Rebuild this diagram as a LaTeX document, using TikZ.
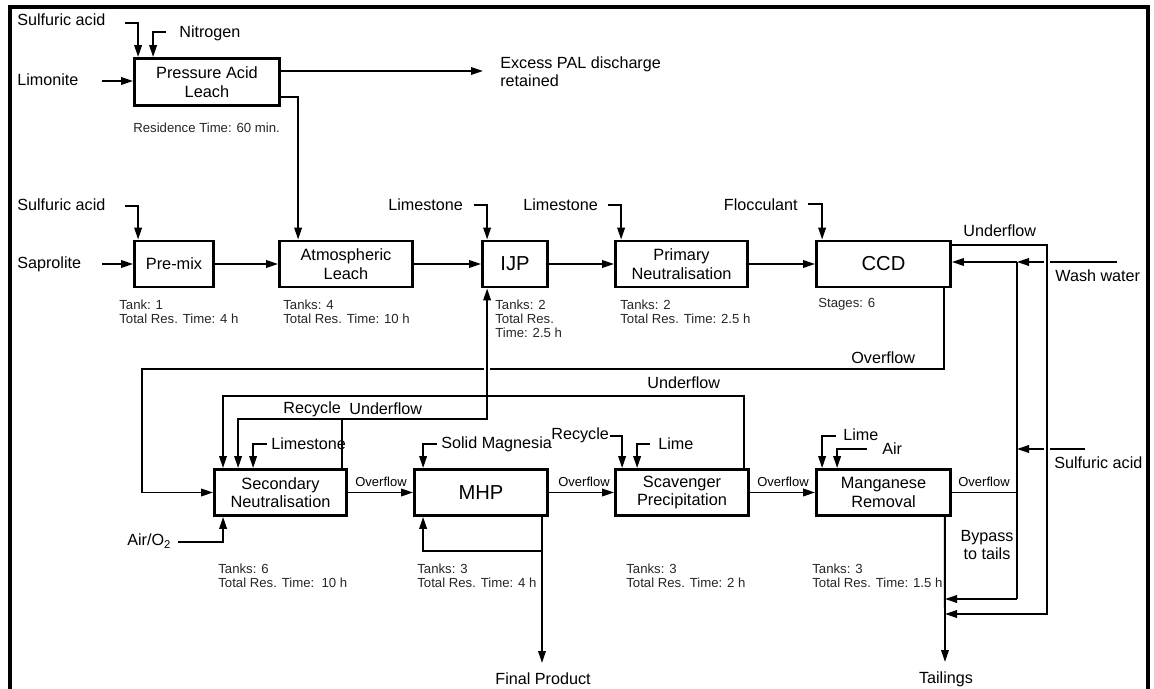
\documentclass[tikz,border=0pt]{standalone}
\usepackage{fontspec}
\setmainfont{Liberation Sans}
\usetikzlibrary{arrows.meta,calc}
\tikzset{
  unitbox/.style={draw, line width=1.6pt, minimum height=0.92cm, inner sep=2pt,
                  align=center, font=\fontsize{9.3}{10.5}\selectfont},
  bigbox/.style={unitbox, font=\fontsize{11.5}{13}\selectfont},
  lbl/.style={inner sep=0pt, anchor=west, align=left, font=\fontsize{9.2}{10.4}\selectfont},
  note/.style={inner sep=0pt, anchor=west, align=left, text=black!85,
               font=\fontsize{7.5}{8}\selectfont},
  tag/.style={inner sep=0pt, anchor=west, font=\fontsize{7.4}{8}\selectfont},
  flow/.style={line width=1.1pt},
  arr/.style={flow, -{Triangle[length=2.4mm,width=1.5mm]}}}
\begin{document}
\begin{tikzpicture}[x=0.02cm, y=-0.02cm]
  \useasboundingbox (0,0) rectangle (1154,689);
  \draw[line width=2.3pt] (10,689) -- (10,7) -- (1148,7) -- (1148,689);

  % unit operations
  \node[unitbox, minimum width=2.9cm, minimum height=0.94cm] (pal) at (207,82) {Pressure Acid\\Leach};
  \node[unitbox, minimum width=1.58cm] (premix) at (174,264) {Pre-mix};
  \node[unitbox, minimum width=2.66cm] (atm) at (346,264) {Atmospheric\\Leach};
  \node[bigbox, minimum width=1.3cm] (ijp) at (515,264) {IJP};
  \node[unitbox, minimum width=2.64cm] (pn) at (681.5,264) {Primary\\Neutralisation};
  \node[bigbox, minimum width=2.68cm] (ccd) at (883.5,264) {CCD};
  \node[unitbox, minimum width=2.64cm] (sn) at (280.5,492.5) {Secondary\\Neutralisation};
  \node[bigbox, minimum width=2.66cm] (mhp) at (481,492.5) {MHP};
  \node[unitbox, minimum width=2.66cm] (scav) at (682,492.5) {Scavenger\\Precipitation};
  \node[unitbox, minimum width=2.68cm] (mn) at (883.5,492.5) {Manganese\\Removal};

  % stream labels
  \node[lbl] (sa1) at (17,20) {Sulfuric acid};
  \node[lbl] (nit) at (179,33) {Nitrogen};
  \node[lbl] (lim) at (17,80) {Limonite};
  \node[lbl] (excess) at (500,72) {Excess PAL discharge\\retained};
  \node[lbl] (sa2) at (17,205) {Sulfuric acid};
  \node[lbl] (sap) at (17,264) {Saprolite};
  \node[lbl] (ls1) at (388,205) {Limestone};
  \node[lbl] (ls2) at (523,205) {Limestone};
  \node[lbl, anchor=east] (floc) at (798,205) {Flocculant};
  \node[lbl] (uf1) at (963,231) {Underflow};
  \node[lbl] (wash) at (1055,276) {Wash water};
  \node[lbl] (of1) at (851,358) {Overflow};
  \node[lbl] (uf2) at (647,383) {Underflow};
  \node[lbl] (rec1) at (283,409) {Recycle};
  \node[lbl] (uf3) at (349,409) {Underflow};
  \node[lbl] (ls3) at (271,444) {Limestone};
  \node[lbl] (mag) at (441,444) {Solid Magnesia};
  \node[lbl] (rec2) at (551,435) {Recycle};
  \node[lbl] (lime1) at (658,444) {Lime};
  \node[lbl] (lime2) at (843,435) {Lime};
  \node[lbl] (air) at (882,449) {Air};
  \node[lbl] (sa3) at (1054,463) {Sulfuric acid};
  \node[lbl] (airo) at (127,541) {Air/O\textsubscript{2}};
  \node[lbl, anchor=center, align=center] (bypass) at (987,545) {Bypass\\to tails};
  \node[lbl, anchor=center] (fp) at (543,679) {Final Product};
  \node[lbl, anchor=center] (tl) at (946,679) {Tailings};
  \node[tag] (t1) at (355,482) {Overflow};
  \node[tag] (t2) at (558,482) {Overflow};
  \node[tag] (t3) at (757,482) {Overflow};
  \node[tag] (t4) at (958,482) {Overflow};

  % residence times
  \node[note] (npal) at (133,128) {Residence Time: 60 min.};
  \node[note] (npremix) at (119,312) {Tank: 1\\Total Res. Time: 4 h};
  \node[note] (natm) at (283,312) {Tanks: 4\\Total Res. Time: 10 h};
  \node[note] (nijp) at (495,319) {Tanks: 2\\Total Res.\\Time: 2.5 h};
  \node[note] (npn) at (620,312) {Tanks: 2\\Total Res. Time: 2.5 h};
  \node[note] (nccd) at (818,304) {Stages: 6};
  \node[note] (nsn) at (218,576) {Tanks: 6\\Total Res. Time:\ \ 10 h};
  \node[note] (nmhp) at (417,576) {Tanks: 3\\Total Res. Time: 4 h};
  \node[note] (nscav) at (626,576) {Tanks: 3\\Total Res. Time: 2 h};
  \node[note] (nmn) at (812,576) {Tanks: 3\\Total Res. Time: 1.5 h};

  % free ends and junctions
  \coordinate (sa1e) at (125,23);
  \coordinate (nite) at (166,32);
  \coordinate (lime) at (102,81);
  \coordinate (exc) at (483,71);
  \coordinate (sa2e) at (125,206);
  \coordinate (sape) at (102,264);
  \coordinate (ls1e) at (474,205);
  \coordinate (ls2e) at (608,205);
  \coordinate (floce) at (808,204);
  \coordinate (wwe) at (1117,262);
  \coordinate (wj) at (1017,262);
  \coordinate (uf) at (1047,614);
  \coordinate (sa3e) at (1085,449);
  \coordinate (saj) at (1017,449);
  \coordinate (bp) at (1017,599);
  \coordinate (tail) at (945,662);
  \coordinate (ofc) at (142,369);
  \coordinate (uf2c) at (223,396);
  \coordinate (snuf) at (342,419);
  \coordinate (ls3e) at (267,444);
  \coordinate (aire) at (178,542);
  \coordinate (mage) at (437,444);
  \coordinate (fpe) at (542,663);
  \coordinate (rec2e) at (610,436);
  \coordinate (lime1e) at (650,444);
  \coordinate (lime2e) at (836,436);
  \coordinate (airm) at (867,449);
  \coordinate (ijpin) at ($(ijp.south west)+(6,0)$);

  % leach
  \draw[arr] (sa1e) -| ($(pal.north west)+(5,0)$);
  \draw[arr] (nite) -| ($(pal.north west)+(20,0)$);
  \draw[arr] (lime) -- (lime -| pal.west);
  \draw[arr] (pal.east |- exc) -- (exc);
  \draw[arr] ($(pal.south east)+(0,-10)$) -| ($(atm.north west)+(20,0)$);
  \draw[arr] (sa2e) -| ($(premix.north west)+(5,0)$);
  \draw[arr] (sape) -- (sape -| premix.west);
  \draw[arr] (premix) -- (atm);
  \draw[arr] (atm) -- (ijp);
  \draw[arr] (ijp) -- (pn);
  \draw[arr] (pn) -- (ccd);
  \draw[arr] (ls1e) -| ($(ijp.north west)+(6,0)$);
  \draw[arr] (ls2e) -| ($(pn.north west)+(7,0)$);
  \draw[arr] (floce) -| ($(ccd.north west)+(7,0)$);

  % ccd wash circuit
  \draw[arr] ($(ccd.north east)+(0,5)$) -| (uf) -- (uf -| tail);
  \draw[flow] (wwe) -- ($(uf |- wj)+(3,0)$);
  \draw[arr] ($(uf |- wj)+(-3,0)$) -- (wj);
  \draw[arr] (wj) -- (wj -| ccd.east);
  \draw[flow] (sa3e) -- ($(uf |- saj)+(3,0)$);
  \draw[arr] ($(uf |- saj)+(-3,0)$) -- (saj);
  \draw[flow] (wj) -- (bp);
  \draw[arr] (bp) -- (bp -| tail);
  \draw[flow] (mn.east) -- (mn.east -| wj);
  \draw[arr] ($(ccd.south east)+(-8,0)$) |- (ofc) |- (sn.west);
  \draw[white, line width=3pt] ($(ijpin |- ofc)+(-3,0)$) -- ($(ijpin |- ofc)+(3,0)$);

  % neutralisation and precipitation
  \draw[arr] ($(scav.north east)+(-6,0)$) |- (uf2c) -- (uf2c |- sn.north);
  \draw[flow] (snuf |- sn.north) -- (snuf);
  \draw[arr] (snuf) -| ($(sn.north west)+(25,0)$);
  \draw[arr] (snuf) -| (ijpin);
  \draw[arr] (ls3e) -| ($(sn.north west)+(40,0)$);
  \draw[arr] (aire) -| ($(sn.south west)+(10,0)$);
  \draw[arr] (sn) -- (mhp);
  \draw[arr] (mhp) -- (scav);
  \draw[arr] (scav) -- (mn);
  \draw[arr] (mage) -| ($(mhp.north west)+(10,0)$);
  \draw[arr] (fpe |- mhp.south) -- (fpe);
  \draw[arr] ($(fpe |- mhp.south)+(0,34)$) -| ($(mhp.south west)+(10,0)$);
  \draw[arr] (rec2e) -| ($(scav.north west)+(8,0)$);
  \draw[arr] (lime1e) -| ($(scav.north west)+(23,0)$);
  \draw[arr] (lime2e) -| ($(mn.north west)+(7,0)$);
  \draw[arr] (airm) -| ($(mn.north west)+(22,0)$);
  \draw[arr] ($(mn.south east)+(-7,0)$) -- (tail);
\end{tikzpicture}
\end{document}
